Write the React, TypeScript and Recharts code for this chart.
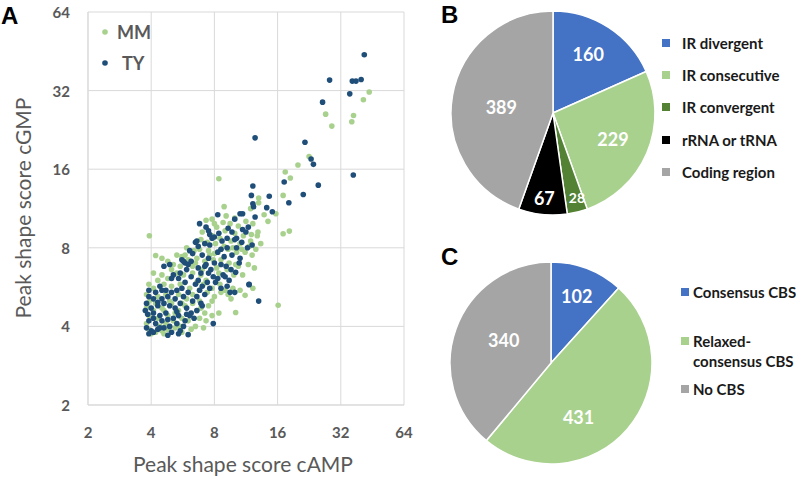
import { ScatterChart, Scatter, XAxis, YAxis, CartesianGrid, PieChart, Pie, Cell } from 'recharts';

// log2 axis ticks for panel A
const logTicks = [2, 4, 8, 16, 32, 64];

// Panel A: peak shape scores (cAMP, cGMP)
const mmPoints: [number, number][] = [
  [43.7, 31.6], [41, 29.5], [27.1, 26.0], [29.0, 23.4], [36.8, 25.7], [36.1, 24.3], [22.6, 17.9],
  [20.0, 16.6], [17.4, 15.6], [18.4, 14.8], [17.0, 12.7], [8.4, 14.7], [13.0, 12.4], [13.0, 11.9],
  [8.9, 11.5], [11.9, 11.3], [13.8, 10.7], [15.7, 10.8], [7.8, 10.3], [3.92, 8.9], [4.2, 7.47],
  [17.0, 9.06], [18.2, 9.27], [16.1, 4.82], [10.1, 4.52], [11.2, 5.26], [12.8, 8.9], [14.4, 10.1],
  [7.3, 10.2], [8.8, 10.0], [9.5, 9.9], [10.4, 9.7], [11.3, 10.1], [12.2, 9.9], [8.2, 9.6],
  [9.0, 9.3], [10.0, 9.1], [11.0, 8.9], [12.0, 9.0], [12.9, 9.2], [7.0, 9.2], [7.8, 8.9],
  [8.5, 8.7], [9.6, 8.5], [10.6, 8.3], [11.9, 8.5], [13.3, 8.3], [6.9, 8.6], [7.4, 8.4], [8.1, 8.3],
  [5.9, 8.0], [6.4, 7.8], [6.8, 7.9], [7.5, 7.8], [8.0, 7.6], [8.6, 7.9], [9.3, 7.9], [10.2, 7.7],
  [11.2, 7.7], [12.1, 7.5], [5.3, 7.5], [5.6, 7.4], [6.6, 7.3], [7.2, 7.1], [7.9, 7.2], [8.6, 7.2],
  [9.4, 7.0], [10.4, 6.8], [11.6, 6.9], [4.5, 7.3], [4.8, 7.1], [5.1, 6.9], [6.3, 6.8], [7.0, 6.6],
  [8.2, 6.7], [9.9, 6.3], [10.9, 6.3], [12.4, 6.7], [5.8, 7.5],
  [4.1, 6.4], [4.5, 6.3], [4.3, 6.0], [4.8, 6.1], [5.3, 6.4], [5.7, 6.3], [6.3, 6.4], [6.9, 6.3],
  [7.3, 6.0], [8.5, 5.8], [9.0, 5.5], [9.8, 5.6], [10.6, 5.5], [12.2, 5.6], [3.9, 5.8], [4.1, 5.6],
  [4.6, 5.8], [5.0, 5.7], [5.5, 5.8], [6.1, 5.6], [6.8, 5.5], [7.4, 5.4], [8.0, 5.2], [3.8, 5.3],
  [4.3, 5.2], [4.7, 5.3], [5.9, 5.1], [6.8, 5.0], [7.8, 5.0], [9.6, 5.1],
  [3.8, 4.7], [4.2, 4.9], [4.5, 4.7], [5.0, 4.9], [5.4, 4.6], [5.8, 4.8], [6.3, 4.9], [6.9, 4.7],
  [7.5, 4.8], [8.4, 4.5], [3.9, 4.4], [4.3, 4.3], [4.8, 4.4], [5.2, 4.5], [5.6, 4.3], [6.0, 4.2],
  [6.8, 4.3], [7.3, 4.2], [3.8, 4.1], [4.4, 4.0], [4.7, 4.1], [5.1, 4.2], [5.5, 4.0], [6.5, 4.0],
  [7.1, 3.95], [3.9, 3.9], [4.2, 3.8], [4.5, 3.85], [4.8, 3.9], [5.2, 3.95], [5.6, 3.8], [4.0, 3.75],
  [5.0, 6.6], [5.5, 6.8], [6.0, 7.2], [6.5, 7.0], [7.6, 7.5], [8.9, 8.1], [9.8, 8.0], [10.8, 7.9],
  [8.4, 6.4], [9.2, 6.6], [10.1, 6.9], [6.6, 5.9], [7.1, 5.8], [7.8, 5.6], [8.6, 5.4], [9.3, 5.3],
  [5.4, 5.3], [6.3, 5.3], [4.9, 5.0], [5.6, 4.9], [6.6, 4.6], [7.2, 4.5], [7.8, 4.4], [4.1, 4.6],
  [4.6, 4.6], [3.85, 4.9], [3.95, 5.05], [5.3, 4.05], [6.2, 3.9], [4.6, 3.75], [9.1, 10.6],
  [10.0, 10.4], [8.0, 9.9], [11.7, 8.1], [12.6, 7.9],
];

const tyPoints: [number, number][] = [
  [41.4, 43.9], [28.3, 35.1], [36.3, 34.8], [37.8, 34.8], [40, 35.3], [35.3, 31.1], [26.2, 28.9],
  [12.5, 21.1], [21.6, 20.3], [23.1, 17.5], [23.7, 16.7], [36.7, 15.2], [12.2, 13.8], [17.2, 14.3],
  [12.0, 12.7], [14.6, 12.6], [21.2, 12.8], [25.0, 13.9], [18.1, 11.9], [12.2, 11.8], [12.3, 11.5],
  [14.2, 11.4], [15.1, 11.0], [8.3, 10.7], [10.6, 10.8], [10.9, 10.8], [10.0, 10.3], [12.5, 10.5],
  [6.8, 9.9], [7.3, 9.6], [7.5, 9.3], [7.6, 9.0], [9.3, 9.5], [9.7, 9.2], [8.0, 8.8], [10.2, 8.7],
  [10.9, 9.4], [11.6, 9.6], [11.3, 9.2], [6.5, 8.4], [6.7, 8.1], [7.2, 8.3], [7.6, 8.2], [8.7, 8.5],
  [9.2, 8.7], [10.0, 8.6], [10.8, 8.4], [11.5, 8.0], [12.1, 8.2], [6.6, 8.5],
  [6.1, 7.8], [6.3, 7.6], [7.0, 7.5], [7.5, 7.3], [8.3, 7.7], [8.9, 7.4], [9.7, 7.5], [10.6, 7.3],
  [10.5, 7.0], [5.6, 7.2], [5.8, 7.0], [6.0, 6.9], [6.7, 6.7], [7.2, 6.8], [7.7, 6.6], [8.6, 6.9],
  [9.1, 6.8], [9.6, 6.6], [4.6, 6.8], [4.9, 6.9], [5.9, 6.6], [5.7, 7.1], [6.2, 7.1],
  [7.5, 6.4], [7.9, 6.2], [8.3, 6.1], [8.8, 6.3], [9.4, 6.0], [6.2, 6.2], [6.7, 6.0], [5.1, 6.3],
  [5.4, 6.1], [5.8, 5.9], [6.5, 5.8], [7.0, 5.7], [7.6, 5.6], [8.1, 5.9], [9.2, 5.7], [10.0, 5.4],
  [11.7, 5.8], [13.0, 5.0], [4.4, 5.7], [3.9, 5.5], [3.9, 5.2], [4.2, 5.4], [4.7, 5.5], [5.0, 5.4],
  [5.3, 5.5], [5.6, 5.6], [6.0, 5.4], [6.6, 5.2], [7.2, 5.3], [4.5, 5.1], [4.8, 5.2], [5.2, 5.1],
  [5.7, 5.2], [6.3, 5.0], [9.5, 5.4], [10.1, 6.45],
  [3.8, 4.9], [4.0, 4.7], [4.3, 4.8], [4.6, 4.9], [4.9, 4.8], [5.2, 4.7], [5.5, 4.9], [5.9, 4.7],
  [4.1, 4.5], [4.4, 4.4], [4.7, 4.5], [5.1, 4.3], [5.4, 4.4], [6.2, 4.5], [6.6, 4.6], [7.0, 4.8],
  [3.9, 4.2], [4.2, 4.1], [4.5, 4.2], [4.9, 4.0], [5.3, 4.1], [5.7, 4.0], [6.4, 4.3], [7.9, 4.1],
  [3.8, 3.95], [4.0, 3.85], [4.3, 3.9], [4.6, 3.95], [5.0, 3.8], [5.5, 3.85], [3.9, 3.75], [4.1, 3.8],
  [5.4, 3.75], [6.0, 3.72], [6.1, 4.4], [5.8, 4.2], [3.75, 4.6], [11.7, 5.78],
  [5.0, 6.1], [5.5, 6.4], [6.9, 6.4], [7.3, 6.9], [8.0, 7.0], [8.6, 7.9], [9.2, 8.0], [10.2, 8.0],
  [7.8, 8.7], [8.4, 9.1], [4.3, 4.95], [4.5, 5.5], [4.1, 4.3], [4.8, 4.25], [5.3, 4.55], [5.9, 4.45],
  [4.4, 3.95], [4.8, 3.7], [4.1, 5.1], [3.85, 4.45], [6.8, 5.5], [7.4, 5.9], [8.6, 5.6], [6.9, 4.9],
  [9.0, 6.2],
];

// Panel B: genomic location of peaks
const regionNames = ['IR divergent', 'IR consecutive', 'IR convergent', 'rRNA or tRNA', 'Coding region'];
const regionCounts = [160, 229, 28, 67, 389];
const regionColors = ['#4472c4', '#a9d18e', '#548235', '#000000', '#a5a5a5'];

// Panel C: CBS presence
const cbsNames = ['Consensus CBS', 'Relaxed-|consensus CBS', 'No CBS'];
const cbsCounts = [102, 431, 340];
const cbsColors = ['#4472c4', '#a9d18e', '#a5a5a5'];

const MM_COLOR = '#a9d18e';
const TY_COLOR = '#1f4e79';
const AXIS_GRAY = '#595959';
const GRID_GRAY = '#d9d9d9';
const FONT = "Lato, 'Open Sans', sans-serif";

const mmData = mmPoints.map(([x, y]) => ({ x, y }));
const tyData = tyPoints.map(([x, y]) => ({ x, y }));
const regionData = regionNames.map((name, i) => ({ name, value: regionCounts[i] }));
const cbsData = cbsNames.map((name, i) => ({ name, value: cbsCounts[i] }));

// label placement per slice: [fraction of radius, clockwise shift in degrees]
const regionLabelSpots = [[0.67, -2], [0.64, 0], [0.86, -2], [0.84, 0], [0.51, -3]];
const regionLabelSizes = [18, 18, 14, 18, 18];
const cbsLabelSpots = [[0.71, 0], [0.6, 22], [0.52, 6]];

const RAD = Math.PI / 180;

function makeLabel(spots: number[][], sizes?: number[]) {
  return (p: any) => {
    const [f, shift] = spots[p.index];
    const a = p.midAngle - shift;
    const r = p.outerRadius * f;
    const x = p.cx + r * Math.cos(-a * RAD);
    const y = p.cy + r * Math.sin(-a * RAD);
    return (
      <text x={x} y={y} fill="#fff" textAnchor="middle" dominantBaseline="central"
        fontSize={sizes ? sizes[p.index] : 18} fontWeight="bold" fontFamily={FONT}>
        {p.value}
      </text>
    );
  };
}

const dot = (color: string) => (p: any) => <circle cx={p.cx} cy={p.cy} r={2.8} fill={color} />;

// bold gray tick labels
const XTick = (p: any) => (
  <text x={p.x} y={p.y} textAnchor="middle" dominantBaseline="central" fontSize={15} fontWeight={700}
    fill={AXIS_GRAY} fontFamily={FONT}>{p.payload.value}</text>
);
const YTick = (p: any) => (
  <text x={p.x} y={p.y} textAnchor="end" dominantBaseline="central" fontSize={15} fontWeight={700}
    fill={AXIS_GRAY} fontFamily={FONT}>{p.payload.value}</text>
);

export default function App() {
  return (
    <div style={{ position: 'absolute', left: 0, top: 0, width: 800, height: 477, background: '#fff', fontFamily: FONT }}>
      {/* A - scatter */}
      <div style={{ position: 'absolute', left: 0, top: 0 }}>
        <ScatterChart width={450} height={477} margin={{ top: 12, right: 46, bottom: 42, left: 0 }}>
          <CartesianGrid stroke={GRID_GRAY} />
          <XAxis dataKey="x" type="number" scale="log" domain={[2, 64]} ticks={logTicks} allowDataOverflow
            height={30} tickLine={false} tickSize={0} tickMargin={27} axisLine={{ stroke: GRID_GRAY }}
            tick={XTick} />
          <YAxis dataKey="y" type="number" scale="log" domain={[2, 64]} ticks={logTicks} allowDataOverflow
            width={88} tickLine={false} tickSize={0} tickMargin={18} axisLine={{ stroke: GRID_GRAY }}
            tick={YTick} />
          <Scatter name="MM" data={mmData} fill={MM_COLOR} shape={dot(MM_COLOR)} isAnimationActive={false} />
          <Scatter name="TY" data={tyData} fill={TY_COLOR} shape={dot(TY_COLOR)} isAnimationActive={false} />
        </ScatterChart>
      </div>

      {/* B - pie */}
      <div style={{ position: 'absolute', left: 440, top: 0 }}>
        <PieChart width={360} height={215}>
          <Pie data={regionData} dataKey="value" cx={108} cy={108} outerRadius={102} startAngle={90} endAngle={-270}
            stroke="#fff" strokeWidth={1.5} labelLine={false} label={makeLabel(regionLabelSpots, regionLabelSizes)}
            isAnimationActive={false}>
            {regionData.map((d, i) => <Cell key={d.name} fill={regionColors[i]} />)}
          </Pie>
        </PieChart>
      </div>

      {/* C - pie */}
      <div style={{ position: 'absolute', left: 440, top: 240 }}>
        <PieChart width={360} height={237}>
          <Pie data={cbsData} dataKey="value" cx={106} cy={118} outerRadius={101} startAngle={90} endAngle={-270}
            stroke="#fff" strokeWidth={1.5} labelLine={false} label={makeLabel(cbsLabelSpots)}
            isAnimationActive={false}>
            {cbsData.map((d, i) => <Cell key={d.name} fill={cbsColors[i]} />)}
          </Pie>
        </PieChart>
      </div>

      {/* text overlay: panel letters, axis titles, legends */}
      <svg width={800} height={477} style={{ position: 'absolute', left: 0, top: 0, pointerEvents: 'none' }}>
        <g fontFamily="'Liberation Sans', Arial, sans-serif" fontWeight="bold" fontSize={24} fill="#000">
          <text x={1} y={24}>A</text>
          <text x={441} y={23}>B</text>
          <text x={441} y={265}>C</text>
        </g>
        <text x={243} y={463} textAnchor="middle" dominantBaseline="central" fontSize={21} fill={AXIS_GRAY}>
          Peak shape score cAMP
        </text>
        <text x={22} y={208} textAnchor="middle" dominantBaseline="central" fontSize={21} fill={AXIS_GRAY}
          transform="rotate(-90 22 208)">
          Peak shape score cGMP
        </text>

        {/* scatter legend */}
        <circle cx={105} cy={32} r={2.8} fill={MM_COLOR} />
        <text x={117} y={32} dominantBaseline="central" fontSize={18} fontWeight="bold" fill={AXIS_GRAY}>MM</text>
        <circle cx={105} cy={63} r={2.8} fill={TY_COLOR} />
        <text x={122} y={63} dominantBaseline="central" fontSize={18} fontWeight="bold" fill={AXIS_GRAY}>TY</text>

        {/* B legend */}
        {regionNames.map((n, i) => (
          <g key={n}>
            <rect x={662} y={[43, 75, 107, 140, 172][i] - 4} width={8} height={8} fill={regionColors[i]} />
            <text x={682} y={[43, 75, 107, 140, 172][i]} dominantBaseline="central" fontSize={15} fontWeight="bold" fill="#1a1a1a">{n}</text>
          </g>
        ))}

        {/* C legend */}
        {cbsNames.map((n, i) => {
          const y = [292, 341, 389][i];
          return (
            <g key={n}>
              <rect x={681} y={y - 4} width={8} height={8} fill={cbsColors[i]} />
              {n.split('|').map((line, j) => (
                <text key={line} x={693} y={y + j * 20} dominantBaseline="central" fontSize={15} fontWeight="bold" fill="#1a1a1a">{line}</text>
              ))}
            </g>
          );
        })}
      </svg>
    </div>
  );
}
